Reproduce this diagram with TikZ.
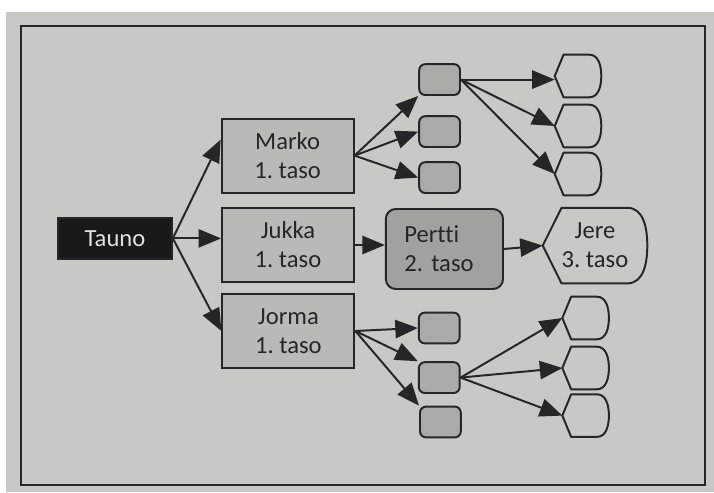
\documentclass[tikz,border=0pt]{standalone}
\usepackage{fontspec}
\setmainfont{Carlito}[Ligatures=NoCommon]
\usetikzlibrary{arrows.meta}
\definecolor{paper}{HTML}{C6C9C4}
\definecolor{boxgray}{HTML}{B8BAB6}
\definecolor{smallgray}{HTML}{A9ABA7}
\definecolor{pertgray}{HTML}{A0A29E}
\definecolor{ink}{HTML}{262626}
\frenchspacing
\begin{document}
\begin{tikzpicture}[
    font=\fontsize{17.5}{20.6}\selectfont,
    boss/.style={rectangle, draw=ink, fill=black!90, text=white!88!black, minimum width=2.85cm, minimum height=1.03cm, line width=1.2pt},
    level1/.style={rectangle, draw=ink, fill=boxgray, text=ink, align=center, minimum width=3.3cm, minimum height=1.85cm, line width=1.4pt},
    level2/.style={rectangle, rounded corners=0.25cm, draw=ink, fill=pertgray, text=ink, text width=2cm, align=left, minimum width=2.93cm, minimum height=2cm, line width=1.4pt},
    small/.style={rectangle, rounded corners=0.15cm, draw=ink, fill=smallgray, minimum width=1.02cm, minimum height=0.77cm, line width=1.4pt},
    display/.style 2 args={inner sep=0pt, text=ink, align=center,
        append after command={\pgfextra{\let\dispnode\tikzlastnode
            \draw[draw=ink, line width=1.4pt, line join=round] (\dispnode.west) -- ([xshift=#1]\dispnode.north west) -- ([xshift=-#2]\dispnode.north east)
                to[out=0,in=90] (\dispnode.east) to[out=-90,in=0] ([xshift=-#2]\dispnode.south east) -- ([xshift=#1]\dispnode.south west) -- cycle;}}},
    hex/.style={display={0.22cm}{0.3cm}, minimum width=1.15cm, minimum height=1.05cm},
    arrow/.style={-{Triangle[length=16pt, width=13pt]}, line width=1.4pt, draw=ink}
]
    \useasboundingbox (0,0) rectangle (17.85,12.3);
    \fill[white] (0,0) rectangle (17.85,12.3);
    \fill[paper] (0.15,0) rectangle (17.85,12.0);
    \draw[ink, line width=2pt] (0.525,0.175) rectangle (17.625,11.65);

    \node[boss] (tauno) at (2.875,6.34) {Tauno};

    \node[level1] (marko) at (7.19,8.41) {Marko\\1. taso};
    \node[level1] (jukka) at (7.2,6.175) {Jukka\\1. taso};
    \node[level1] (jorma) at (7.21,4.025) {Jorma\\1. taso};

    \node[level2] (pertti) at (11.11,6.075) {Pertti\\2. taso};
    \node[display={0.47cm}{0.5cm}, minimum width=2.6cm, minimum height=1.875cm] (jere) at (14.875,6.16) {Jere\\3. taso};

    \node[small] (sq1) at (10.99,10.31) {};
    \node[small] (sq2) at (10.99,9.01) {};
    \node[small] (sq3) at (10.99,7.86) {};
    \node[hex] (hex1) at (14.45,10.4) {};
    \node[hex] (hex2) at (14.45,9.15) {};
    \node[hex] (hex3) at (14.45,7.95) {};

    \node[small] (sq4) at (10.98,4.1) {};
    \node[small] (sq5) at (10.98,2.86) {};
    \node[small] (sq6) at (11.01,1.75) {};
    \node[hex] (hex4) at (14.64,4.35) {};
    \node[hex] (hex5) at (14.64,3.1) {};
    \node[hex] (hex6) at (14.64,1.91) {};

    \draw[arrow] (tauno.east) -- ([yshift=0.4cm]marko.west);
    \draw[arrow] (tauno.east) -- (tauno.east -| jukka.west);
    \draw[arrow] (tauno.east) -- (jorma.west);

    \draw[arrow] (marko.east) -- (sq1.south west);
    \draw[arrow] (marko.east) -- (sq2.west);
    \draw[arrow] (marko.east) -- (sq3.west);
    \draw[arrow] (sq1.east) -- (sq1.east -| hex1.west);
    \draw[arrow] (sq1.east) -- (hex2.west);
    \draw[arrow] (sq1.east) -- (hex3.west);

    \draw[arrow] (jukka.east) -- (jukka.east -| pertti.west);
    \draw[arrow] (pertti.east) -- (jere.west);

    \draw[arrow] (jorma.east) -- (sq4.west);
    \draw[arrow] (jorma.east) -- (sq5.north west);
    \draw[arrow] (jorma.east) -- (sq6.north west);
    \draw[arrow] (sq5.east) -- (hex4.west);
    \draw[arrow] (sq5.east) -- (hex5.west);
    \draw[arrow] (sq5.east) -- (hex6.west);
\end{tikzpicture}
\end{document}
